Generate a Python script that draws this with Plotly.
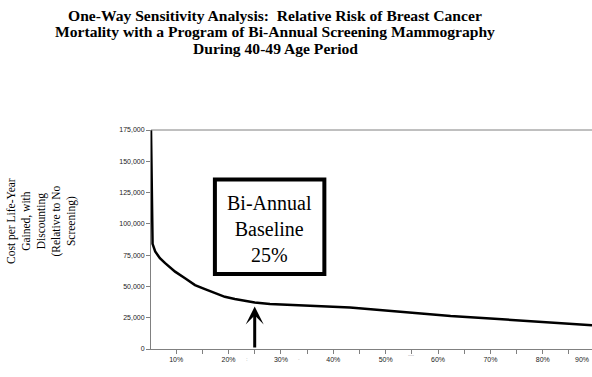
import plotly.graph_objects as go

# Data
relative_risk = [5.2, 5.3, 5.4, 5.5, 6.0, 6.9, 7.9, 9.8, 11.7, 13.6, 15.5, 17.4, 19.3,
                 21.2, 23.2, 25.0, 27.9, 33.7, 43.2, 52.8, 62.4, 70.0, 79.6, 89.4]
cost_per_lyg = [175000, 145000, 100000, 84000, 77900, 72600, 68600, 61800, 56500, 51100,
                47900, 44500, 41700, 39900, 38300, 37200, 35900, 35100, 33200, 29700,
                26300, 24400, 21700, 19000]
y_ticks = [0, 25000, 50000, 75000, 100000, 125000, 150000, 175000]
x_ticks = [5, 10, 15, 20, 25, 30, 35, 40, 45, 50, 55, 60, 65, 70, 75, 80, 85]
x_tick_labels = ["", "10%", "", "20%", "", "30%", "", "40%", "", "50%", "", "60%", "",
                 "70%", "", "80%", ""]
baseline = 25.0
title_lines = [
    "One-Way Sensitivity Analysis:  Relative Risk of Breast Cancer",
    "Mortality with a Program of Bi-Annual Screening Mammography",
    "During 40-49 Age Period",
]
y_title = "Cost per Life-Year<br>Gained, with<br>Discounting<br>(Relative to No<br>Screening)"
box_text = "Bi-Annual<br>Baseline<br>25%"

W, H = 592, 377
L, R, T, B = 151, 0, 130, 28
pw, ph = W - L - R, H - T - B

def px_x(p):
    return (p - L) / pw

def px_y(p):
    return (H - B - p) / ph

fig = go.Figure()
fig.add_trace(go.Scatter(x=relative_risk, y=cost_per_lyg, mode="lines",
                         line=dict(color="black", width=2.5), cliponaxis=True,
                         hoverinfo="skip", showlegend=False))

serif = "Liberation Serif, Times New Roman, serif"
sans = "Liberation Sans, Arial, sans-serif"

annotations = []
for i, (line, yy) in enumerate(zip(title_lines, [15.5, 32, 48.5])):
    annotations.append(dict(text="<b>%s</b>" % line, xref="paper", yref="paper",
                            x=px_x(275), y=px_y(yy), xanchor="center", yanchor="middle",
                            showarrow=False, font=dict(family=serif, size=15.6, color="black")))
annotations.append(dict(text=y_title, xref="paper", yref="paper", x=px_x(41), y=px_y(221),
                        xanchor="center", yanchor="middle", textangle=-90, showarrow=False,
                        font=dict(family=serif, size=11.5, color="black")))
# Box text
annotations.append(dict(text=box_text, xref="x", yref="y", x=27.85, y=95500,
                        xanchor="center", yanchor="middle", showarrow=False,
                        font=dict(family=serif, size=20, color="black")))
# Arrow pointing to baseline
annotations.append(dict(text="", xref="x", yref="y", x=baseline, y=34000,
                        axref="x", ayref="y", ax=baseline, ay=0, showarrow=True,
                        arrowhead=3, arrowsize=1, arrowwidth=3, arrowcolor="black",
                        standoff=0, startstandoff=0))
# 90% label at the right edge
annotations.append(dict(text="90%", xref="paper", yref="paper", x=px_x(591), y=px_y(359),
                        xanchor="right", yanchor="middle", showarrow=False,
                        font=dict(family=sans, size=7, color="#222")))
# faint scan artefacts
for t, xx, yy in [(":", 247, 359), (".", 299, 358), ("---", 411, 355)]:
    annotations.append(dict(text=t, xref="paper", yref="paper", x=px_x(xx), y=px_y(yy),
                            xanchor="center", yanchor="middle", showarrow=False,
                            font=dict(family=sans, size=6, color="#999")))

shapes = [
    dict(type="rect", xref="x", yref="y", x0=17.4, x1=38.3, y0=60000, y1=135400,
         line=dict(color="black", width=4), fillcolor="white", layer="above"),
    dict(type="line", xref="paper", yref="paper", x0=0, x1=1, y0=1, y1=1,
         line=dict(color="#808080", width=1)),
]

fig.update_layout(
    width=W, height=H, margin=dict(l=L, r=R, t=T, b=B, autoexpand=False),
    paper_bgcolor="white", plot_bgcolor="white",
    annotations=annotations, shapes=shapes, showlegend=False,
    xaxis=dict(range=[5.2, 89.4], tickvals=x_ticks, ticktext=x_tick_labels,
               ticks="outside", ticklen=4, tickcolor="#808080", showgrid=False,
               zeroline=False, showline=True, linecolor="#808080", linewidth=1,
               tickfont=dict(family=sans, size=7, color="#222")),
    yaxis=dict(range=[0, 175000], tickvals=y_ticks, tickformat=",d",
               ticks="outside", ticklen=4, tickcolor="#808080", showgrid=False,
               zeroline=False, showline=True, linecolor="#808080", linewidth=1,
               tickfont=dict(family=sans, size=7, color="#222")),
)

fig.write_html("out.html", config={"displayModeBar": False},
               post_script="document.body.style.margin='0';document.body.style.padding='0';")
